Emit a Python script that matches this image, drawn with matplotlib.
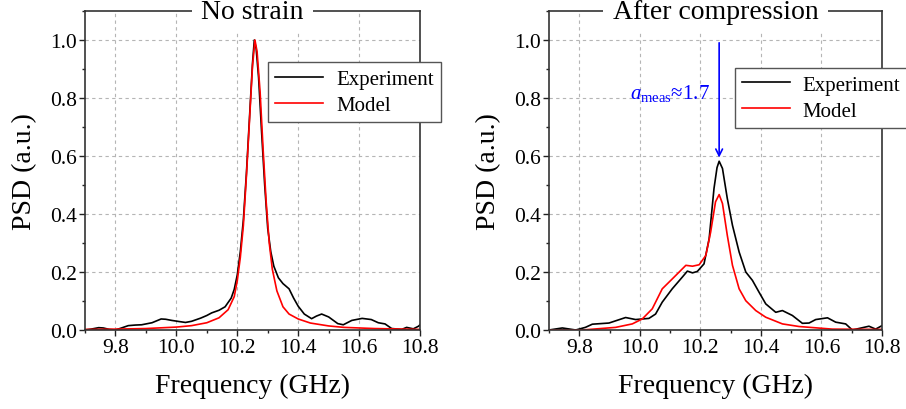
import numpy as np
import matplotlib
matplotlib.use("Agg")
import matplotlib.pyplot as plt
from matplotlib.ticker import MultipleLocator, FormatStrFormatter

plt.rcParams['font.family'] = ['Liberation Serif', 'DejaVu Serif']
plt.rcParams['mathtext.fontset'] = 'custom'
plt.rcParams['mathtext.rm'] = 'Liberation Serif'
plt.rcParams['mathtext.it'] = 'Liberation Serif:italic'

# --- No strain: experiment
f_exp0 = [9.70, 9.72, 9.745, 9.76, 9.78, 9.80, 9.82, 9.842, 9.865, 9.886, 9.92, 9.95,
          9.965, 9.985, 10.01, 10.03, 10.05, 10.08, 10.10, 10.116, 10.14, 10.16, 10.18,
          10.19, 10.20, 10.21, 10.22, 10.23, 10.24, 10.25, 10.256, 10.262, 10.27, 10.28,
          10.29, 10.30, 10.31, 10.32, 10.335, 10.35, 10.37, 10.385, 10.40, 10.42, 10.444,
          10.46, 10.477, 10.50, 10.53, 10.548, 10.576, 10.61, 10.64, 10.663, 10.685,
          10.707, 10.74, 10.756, 10.778, 10.795, 10.80]
psd_exp0 = [0.0, 0.003, 0.008, 0.007, 0.002, 0.0, 0.007, 0.015, 0.017, 0.018, 0.025, 0.038,
            0.037, 0.033, 0.029, 0.026, 0.030, 0.041, 0.050, 0.059, 0.068, 0.080, 0.11,
            0.14, 0.19, 0.27, 0.38, 0.54, 0.73, 0.92, 1.0, 0.97, 0.87, 0.68,
            0.50, 0.35, 0.27, 0.22, 0.18, 0.16, 0.142, 0.11, 0.082, 0.055, 0.039,
            0.048, 0.055, 0.045, 0.022, 0.018, 0.033, 0.040, 0.036, 0.025, 0.021,
            0.005, 0.002, 0.009, 0.004, 0.013, 0.018]

# --- No strain: model
f_mod0 = [9.70, 9.80, 9.90, 10.00, 10.05, 10.10, 10.14, 10.17, 10.19, 10.20, 10.21, 10.22,
          10.23, 10.24, 10.25, 10.258, 10.265, 10.275, 10.285, 10.295, 10.305, 10.315,
          10.33, 10.35, 10.37, 10.40, 10.44, 10.50, 10.55, 10.65, 10.80]
psd_mod0 = [0.002, 0.003, 0.005, 0.010, 0.015, 0.025, 0.042, 0.070, 0.115, 0.17, 0.25, 0.36,
            0.53, 0.72, 0.91, 1.0, 0.96, 0.82, 0.62, 0.44, 0.30, 0.21,
            0.135, 0.08, 0.055, 0.038, 0.024, 0.014, 0.009, 0.005, 0.002]

# --- After compression: experiment
f_exp1 = [9.70, 9.744, 9.788, 9.82, 9.843, 9.898, 9.953, 9.986, 10.03, 10.052, 10.074,
          10.107, 10.14, 10.157, 10.174, 10.19, 10.212, 10.229, 10.245, 10.255, 10.262,
          10.273, 10.289, 10.306, 10.328, 10.35, 10.372, 10.394, 10.416, 10.449, 10.471,
          10.504, 10.537, 10.559, 10.581, 10.62, 10.647, 10.68, 10.702, 10.757, 10.779, 10.80]
psd_exp1 = [0.0, 0.007, 0.0, 0.009, 0.020, 0.024, 0.043, 0.036, 0.040, 0.055, 0.096,
            0.142, 0.182, 0.203, 0.197, 0.202, 0.228, 0.315, 0.488, 0.56, 0.582,
            0.557, 0.453, 0.361, 0.269, 0.200, 0.171, 0.130, 0.090, 0.061, 0.067,
            0.050, 0.023, 0.024, 0.036, 0.042, 0.027, 0.021, 0.0, 0.013, 0.003, 0.015]

# --- After compression: model
f_mod1 = [9.70, 9.81, 9.92, 9.975, 10.008, 10.041, 10.074, 10.107, 10.13, 10.152, 10.174,
          10.196, 10.218, 10.234, 10.25, 10.262, 10.273, 10.289, 10.306, 10.328, 10.35,
          10.383, 10.416, 10.471, 10.526, 10.636, 10.80]
psd_mod1 = [0.0, 0.0, 0.009, 0.021, 0.038, 0.073, 0.142, 0.176, 0.200, 0.223, 0.220,
            0.225, 0.257, 0.338, 0.442, 0.467, 0.436, 0.326, 0.223, 0.142, 0.101,
            0.067, 0.044, 0.021, 0.012, 0.003, 0.002]

titles = ['No strain', 'After compression']
peak_f = 10.262
peak_exp = 0.585

fig = plt.figure(figsize=(9.06, 4.10), dpi=100)
ax1 = fig.add_axes([0.0938, 0.1927, 0.3698, 0.778])
ax2 = fig.add_axes([0.606, 0.1927, 0.3675, 0.778])

data = [(f_exp0, psd_exp0, f_mod0, psd_mod0), (f_exp1, psd_exp1, f_mod1, psd_mod1)]
legend_pos = [(0.296, 0.846), (0.811, 0.832)]

for ax, (fe, pe, fm, pm), title, lpos in zip([ax1, ax2], data, titles, legend_pos):
    ax.plot(fe, pe, color='black', lw=1.2, label='Experiment')
    ax.plot(fm, pm, color='red', lw=1.2, label='Model')
    ax.set_xlim(9.7, 10.8)
    ax.set_ylim(0, 1.1)
    ax.xaxis.set_minor_locator(MultipleLocator(0.1))
    ax.yaxis.set_minor_locator(MultipleLocator(0.1))
    ax.set_xticks([9.8, 10.0, 10.2, 10.4, 10.6, 10.8])
    ax.set_yticks([0.0, 0.2, 0.4, 0.6, 0.8, 1.0])
    ax.xaxis.set_major_formatter(FormatStrFormatter('%.1f'))
    ax.yaxis.set_major_formatter(FormatStrFormatter('%.1f'))
    ax.tick_params(which='major', direction='out', length=4, width=1.0, labelsize=15.5,
                   pad=2, colors='#222222', labelcolor='black')
    ax.tick_params(which='minor', direction='out', length=2.5, width=1.0, colors='#222222')
    ax.grid(True, which='major', ls=(0, (3, 3)), color='#b5b5b5', lw=0.8)
    for s in ax.spines.values():
        s.set_color('#333333')
        s.set_linewidth(1.2)
    ax.set_xlabel('Frequency (GHz)', fontsize=20, labelpad=11)
    ax.set_ylabel('PSD (a.u.)', fontsize=20, labelpad=9)
    ax.text(0.5, 1.0, title, transform=ax.transAxes, ha='center', va='center',
            fontsize=20, zorder=10, clip_on=False,
            bbox=dict(facecolor='white', edgecolor='none', pad=7))
    leg = ax.legend(loc='upper left', bbox_to_anchor=lpos, bbox_transform=fig.transFigure,
                    fontsize=15, frameon=True, fancybox=False, edgecolor='#555555',
                    framealpha=1, handlelength=2.3, borderpad=0.35, labelspacing=0.3,
                    handletextpad=0.6, borderaxespad=0)
    leg.get_frame().set_linewidth(1.0)

ax2.annotate('', xy=(peak_f, peak_exp), xytext=(peak_f, 1.0),
             arrowprops=dict(arrowstyle='->', color='blue', lw=1.2, mutation_scale=12))
ax2.text(10.232, 0.80, r'$a_{\mathrm{meas}}$≈1.7', color='blue', fontsize=15,
         ha='right', va='baseline')

fig.savefig('out.png', dpi=100)
